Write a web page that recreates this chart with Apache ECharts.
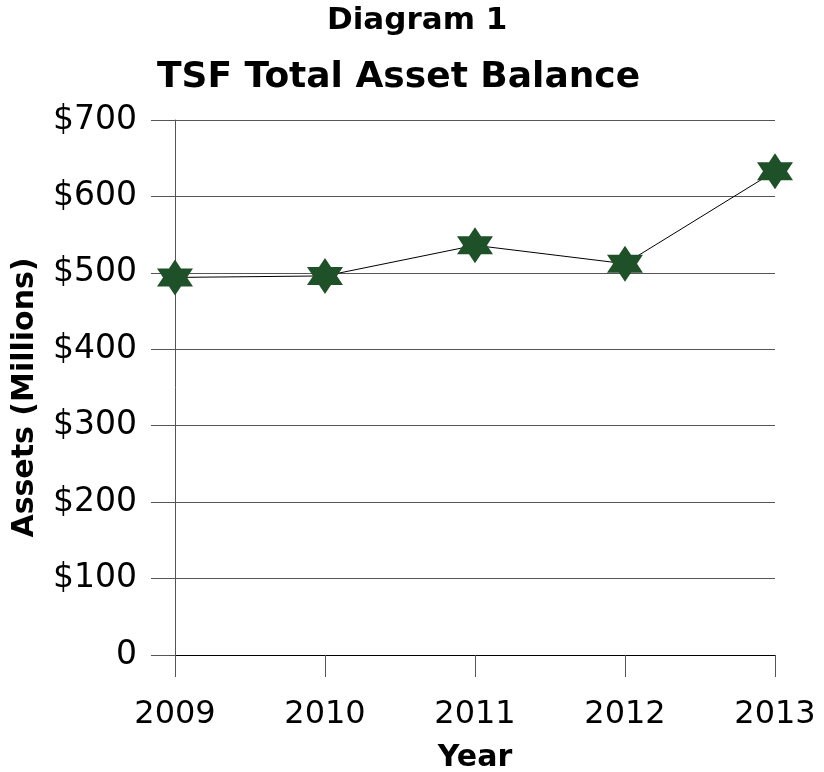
<!DOCTYPE html>
<html>
<head>
<meta charset="utf-8">
<script src="https://cdn.jsdelivr.net/npm/echarts@6/dist/echarts.min.js"></script>
<style>
  html, body { margin: 0; padding: 0; background: #fff; }
  #main { width: 824px; height: 772px; }
</style>
</head>
<body>
<div id="main"></div>
<script>
var years = ['2009', '2010', '2011', '2012', '2013'];
var assets = [494, 496, 536, 512, 633];   // millions
var yTicks = [0, 100, 200, 300, 400, 500, 600, 700];

var chart = echarts.init(document.getElementById('main'));
var font = 'DejaVu Sans, Liberation Sans, sans-serif';
// six pointed star
var hexagram = 'path://M0,-1 L0.289,-0.5 L0.866,-0.5 L0.577,0 L0.866,0.5 L0.289,0.5 L0,1 L-0.289,0.5 L-0.866,0.5 L-0.577,0 L-0.866,-0.5 L-0.289,-0.5 Z';

var option = {
    backgroundColor: '#ffffff',
    animation: false,
    title: [
        {
            text: 'Diagram 1',
            left: 322, top: 0,
            textStyle: { fontFamily: font, fontSize: 31, fontWeight: 'bold', color: '#000' }
        },
        {
            text: 'TSF Total Asset Balance',
            left: 152, top: 55,
            textStyle: { fontFamily: font, fontSize: 36, fontWeight: 'bold', color: '#000' }
        }
    ],
    grid: { left: 175, right: 49, top: 120, bottom: 117, containLabel: false, outerBoundsMode: 'none' },
    xAxis: {
        type: 'category',
        data: years,
        boundaryGap: false,
        name: 'Year',
        nameLocation: 'middle',
        nameGap: 88,
        nameMoveOverlap: false,
        nameTextStyle: { fontFamily: font, fontSize: 30, fontWeight: 'bold', color: '#000' },
        axisLine: { lineStyle: { color: '#000', width: 1 } },
        axisTick: { show: true, length: 22, alignWithLabel: true, lineStyle: { color: '#555' } },
        axisLabel: { fontFamily: font, fontSize: 32, color: '#000', margin: 44 },
        splitLine: { show: false }
    },
    yAxis: {
        type: 'value',
        min: yTicks[0],
        max: yTicks[yTicks.length - 1],
        interval: 100,
        name: 'Assets (Millions)',
        nameLocation: 'middle',
        nameGap: 135,
        nameRotate: 90,
        nameMoveOverlap: false,
        nameTextStyle: { fontFamily: font, fontSize: 30, fontWeight: 'bold', color: '#000', padding: [0, 20, 0, 0] },
        axisLine: { show: true, lineStyle: { color: '#555', width: 1 } },
        axisTick: { show: true, length: 24, lineStyle: { color: '#555' } },
        axisLabel: {
            fontFamily: font, fontSize: 33, color: '#000', margin: 38,
            formatter: function (v) { return v === 0 ? '0' : '$' + v; }
        },
        splitLine: { show: true, lineStyle: { color: '#555', width: 1 } }
    },
    series: [
        {
            type: 'line',
            data: assets,
            symbol: hexagram,
            symbolSize: [36, 36],
            lineStyle: { color: '#000', width: 1 },
            itemStyle: { color: '#1e5128', borderWidth: 0 },
            z: 3
        }
    ]
};

chart.setOption(option);
</script>
</body>
</html>
